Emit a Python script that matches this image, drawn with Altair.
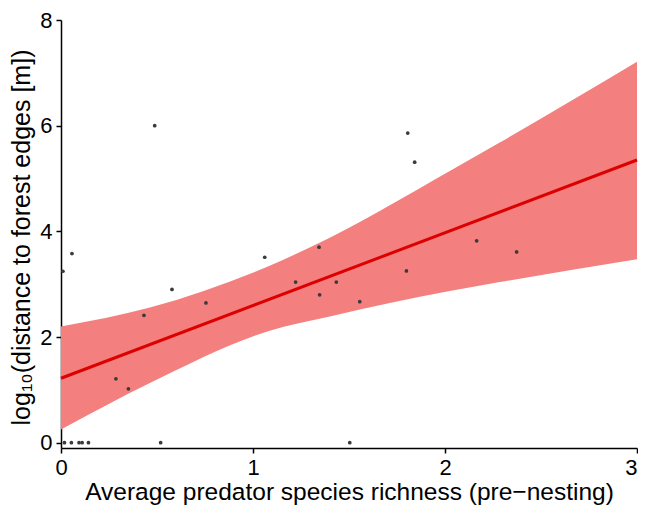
import altair as alt
import pandas as pd

# scatter points (average predator species richness, log10 distance)
pt_x = [0.01, 0.057, 0.018, 0.054, 0.094, 0.11, 0.143, 0.286, 0.351, 0.432,
        0.488, 0.519, 0.578, 0.755, 1.061, 1.222, 1.344, 1.347, 1.434, 1.504,
        1.556, 1.799, 1.806, 1.842, 2.165, 2.373]
pt_y = [3.245, 3.58, 0.0, 0.0, 0.0, 0.0, 0.0, 1.21, 1.02, 2.41,
        6.0, 0.0, 2.90, 2.645, 3.51, 3.04, 3.70, 2.80, 3.04, 0.0,
        2.67, 3.25, 5.86, 5.31, 3.82, 3.61]

# fitted line
fit_x = [0.0, 3.0]
fit_y = [1.22, 5.35]

# confidence band
band_x = [0.0, 0.463, 1.087, 1.40, 2.025, 2.285, 3.0]
band_lo = [0.25, 1.13, 2.12, 2.39, 2.87, 3.04, 3.47]
band_hi = [2.20, 2.56, 3.35, 3.88, 5.14, 5.68, 7.21]

pts = pd.DataFrame({"x": pt_x, "y": pt_y})
fit = pd.DataFrame({"x": fit_x, "y": fit_y})
band = pd.DataFrame({"x": band_x, "lo": band_lo, "hi": band_hi})

xs = alt.Scale(domain=[0, 3], nice=False, zero=False)
ys = alt.Scale(domain=[-0.1, 8], nice=False, zero=False)

xaxis = alt.Axis(values=[0, 1, 2, 3], title="Average predator species richness (pre−nesting)",
                 format="d", labelPadding=4, titleFontSize=24.5,
                 titleBaseline="alphabetic", titleY=51,
                 labelAlign=alt.expr("datum.value == 3 ? 'right' : 'center'"))
yaxis = alt.Axis(values=[0, 2, 4, 6, 8], title="log₁₀(distance to forest edges [m])",
                 format="d", labelPadding=4, titleFontSize=25,
                 titleAngle=-90, titleBaseline="alphabetic", titleAlign="center",
                 titleX=-32, titleY=217)

area = alt.Chart(band).mark_area(color="#F47F7F", opacity=1, interpolate="monotone").encode(
    x=alt.X("x:Q", scale=xs, axis=xaxis),
    y=alt.Y("lo:Q", scale=ys, axis=yaxis),
    y2="hi:Q",
)

line = alt.Chart(fit).mark_line(color="#DD0000", strokeWidth=3).encode(
    x=alt.X("x:Q", scale=xs),
    y=alt.Y("y:Q", scale=ys),
)

points = alt.Chart(pts).mark_circle(color="#3a3a3a", size=14, opacity=1).encode(
    x=alt.X("x:Q", scale=xs),
    y=alt.Y("y:Q", scale=ys),
)

chart = alt.layer(area, line, points).properties(
    width=576, height=428,
    autosize=alt.AutoSizeParams(type="none"),
    padding={"left": 53, "top": 12, "right": 1, "bottom": 57},
).configure_view(stroke=None).configure_axis(
    grid=False,
    domainColor="black", domainWidth=1.5,
    tickColor="black", tickWidth=1.5, tickSize=5,
    labelFont="Liberation Sans", labelFontSize=22, labelColor="black",
    titleFont="Liberation Sans", titleColor="black",
    titleFontWeight="normal",
)

chart.save("out.html", embed_options={"renderer": "svg", "actions": False})
